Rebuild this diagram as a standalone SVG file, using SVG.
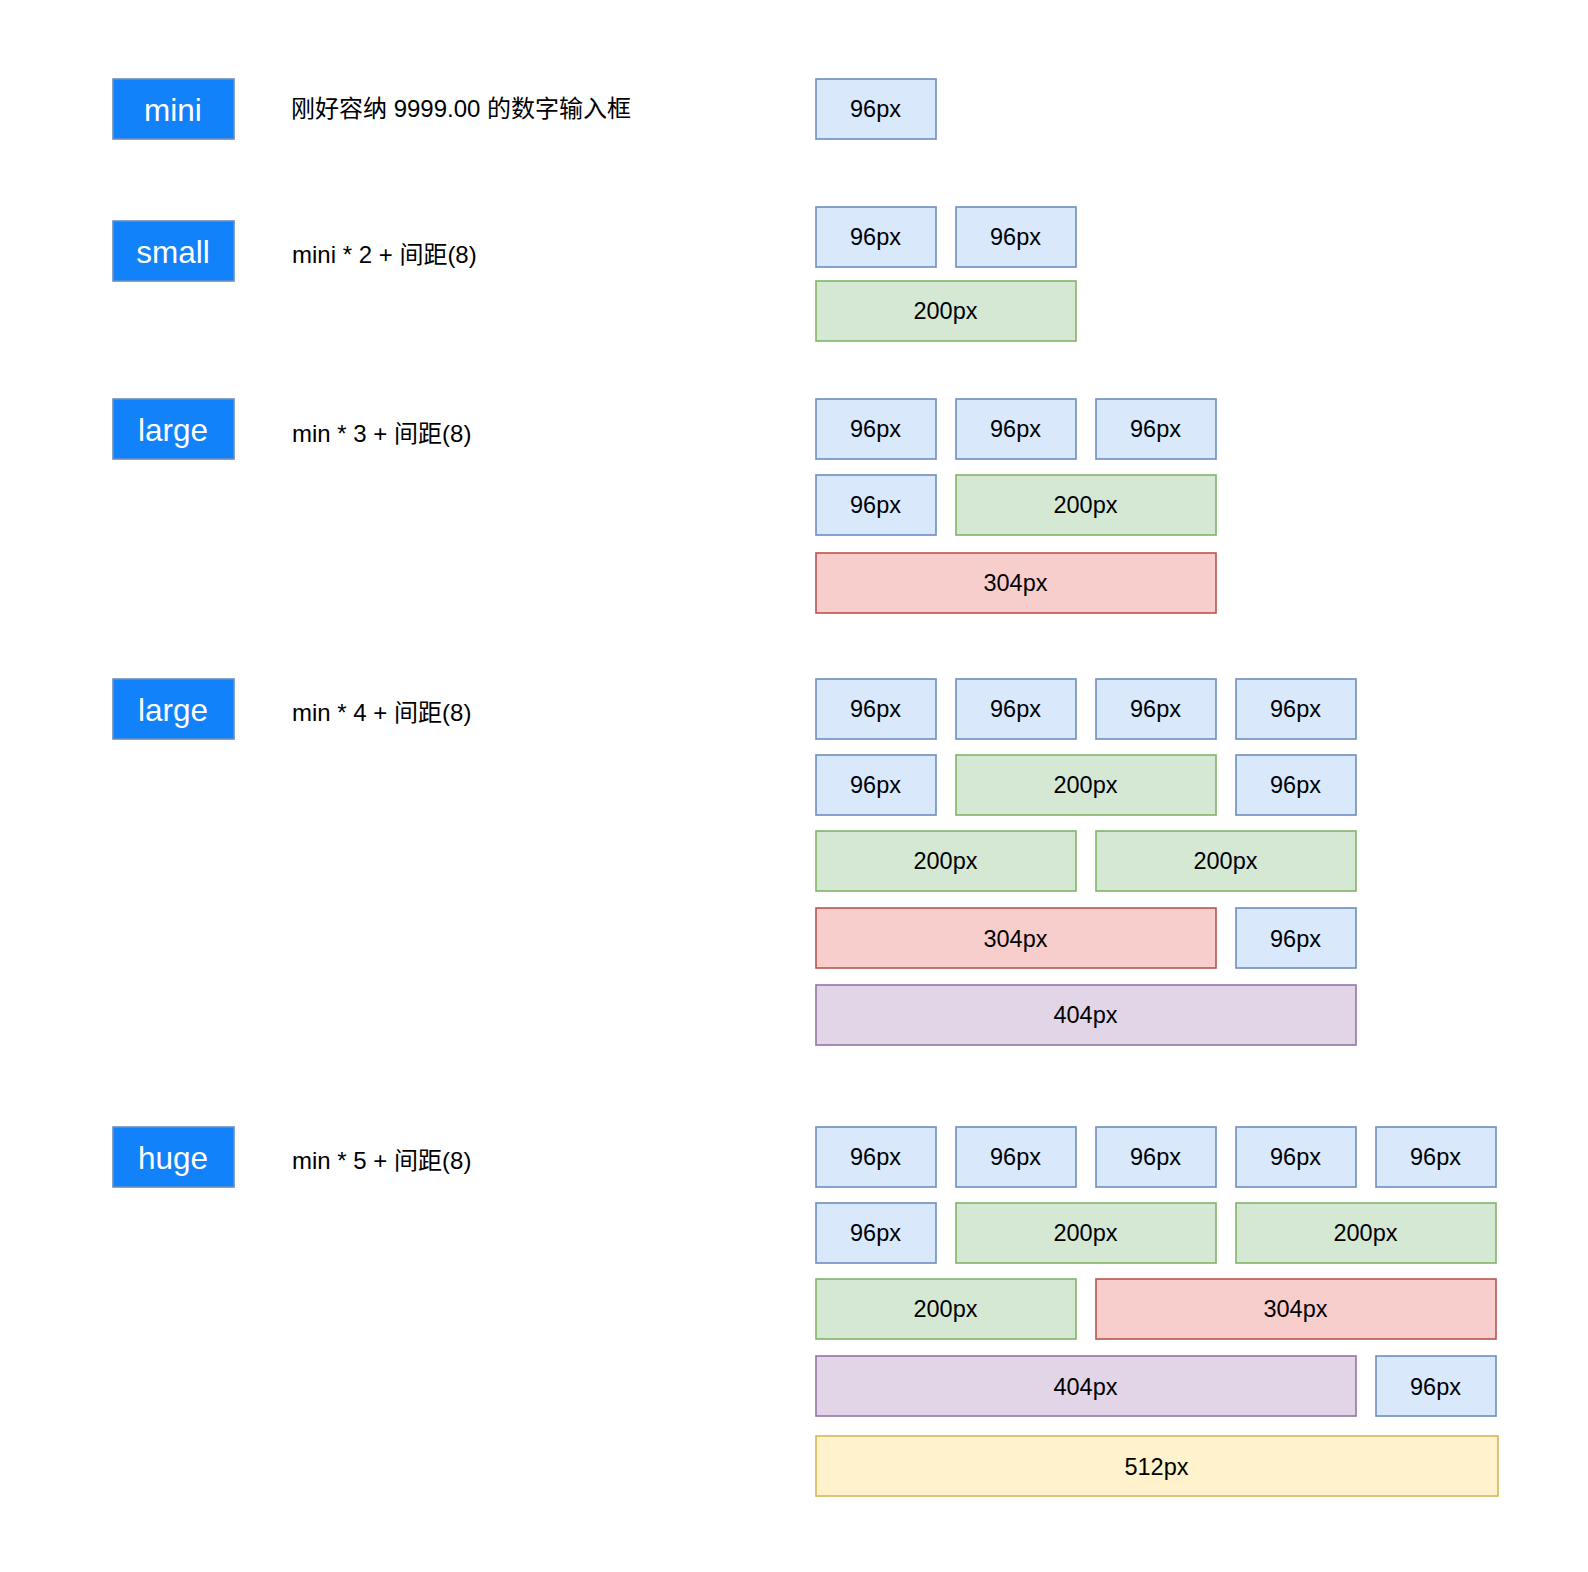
<svg xmlns="http://www.w3.org/2000/svg" width="1588" height="1572" viewBox="0 0 1588 1572">
<style>
text{font-family:"Liberation Sans","Noto Sans CJK SC",Arial,sans-serif;fill:#000}
.lbl rect{fill:#1182fa;stroke:#6c8ebf;stroke-width:1.6}
.lbl text{fill:#fff;font-size:31.5px;text-anchor:middle}
.desc{font-size:24px}
.b rect,.g rect,.r rect,.p rect,.y rect{stroke-width:1.6}
.b rect{fill:#dae8fc;stroke:#6c8ebf}
.g rect{fill:#d5e8d4;stroke:#82b366}
.r rect{fill:#f8cecc;stroke:#b85450}
.p rect{fill:#e1d5e7;stroke:#9673a6}
.y rect{fill:#fff2cc;stroke:#d6b656}
.b text,.g text,.r text,.p text,.y text{font-size:23.5px;text-anchor:middle}
</style>
<rect width="1588" height="1572" fill="#fff"/>

<!-- size labels -->
<g id="lbl-mini" class="lbl"><rect x="113" y="79" width="121" height="60"/><text x="173" y="120.5">mini</text></g>
<g id="lbl-small" class="lbl"><rect x="113" y="221" width="121" height="60"/><text x="173" y="262.5">small</text></g>
<g id="lbl-large1" class="lbl"><rect x="113" y="399" width="121" height="60"/><text x="173" y="440.5">large</text></g>
<g id="lbl-large2" class="lbl"><rect x="113" y="679" width="121" height="60"/><text x="173" y="720.5">large</text></g>
<g id="lbl-huge" class="lbl"><rect x="113" y="1127" width="121" height="60"/><text x="173" y="1168.5">huge</text></g>

<!-- descriptions -->
<g id="desc-mini"><text class="desc" x="291" y="117">刚好容纳 9999.00 的数字输入框</text></g>
<g id="desc-small"><text class="desc" x="292" y="263">mini * 2 + 间距(8)</text></g>
<g id="desc-large1"><text class="desc" x="292" y="441.5">min * 3 + 间距(8)</text></g>
<g id="desc-large2"><text class="desc" x="292" y="721">min * 4 + 间距(8)</text></g>
<g id="desc-huge"><text class="desc" x="292" y="1169">min * 5 + 间距(8)</text></g>

<!-- mini -->
<g id="m1" class="b"><rect x="816" y="79" width="120" height="60"/><text x="875.5" y="117">96px</text></g>

<!-- small -->
<g id="s1" class="b"><rect x="816" y="207" width="120" height="60"/><text x="875.5" y="245">96px</text></g>
<g id="s2" class="b"><rect x="956" y="207" width="120" height="60"/><text x="1015.5" y="245">96px</text></g>
<g id="s3" class="g"><rect x="816" y="281" width="260" height="60"/><text x="945.5" y="319">200px</text></g>

<!-- large (3) -->
<g id="l1" class="b"><rect x="816" y="399" width="120" height="60"/><text x="875.5" y="437">96px</text></g>
<g id="l2" class="b"><rect x="956" y="399" width="120" height="60"/><text x="1015.5" y="437">96px</text></g>
<g id="l3" class="b"><rect x="1096" y="399" width="120" height="60"/><text x="1155.5" y="437">96px</text></g>
<g id="l4" class="b"><rect x="816" y="475" width="120" height="60"/><text x="875.5" y="513">96px</text></g>
<g id="l5" class="g"><rect x="956" y="475" width="260" height="60"/><text x="1085.5" y="513">200px</text></g>
<g id="l6" class="r"><rect x="816" y="553" width="400" height="60"/><text x="1015.5" y="591">304px</text></g>

<!-- large (4) -->
<g id="k1" class="b"><rect x="816" y="679" width="120" height="60"/><text x="875.5" y="717">96px</text></g>
<g id="k2" class="b"><rect x="956" y="679" width="120" height="60"/><text x="1015.5" y="717">96px</text></g>
<g id="k3" class="b"><rect x="1096" y="679" width="120" height="60"/><text x="1155.5" y="717">96px</text></g>
<g id="k4" class="b"><rect x="1236" y="679" width="120" height="60"/><text x="1295.5" y="717">96px</text></g>
<g id="k5" class="b"><rect x="816" y="755" width="120" height="60"/><text x="875.5" y="793">96px</text></g>
<g id="k6" class="g"><rect x="956" y="755" width="260" height="60"/><text x="1085.5" y="793">200px</text></g>
<g id="k7" class="b"><rect x="1236" y="755" width="120" height="60"/><text x="1295.5" y="793">96px</text></g>
<g id="k8" class="g"><rect x="816" y="831" width="260" height="60"/><text x="945.5" y="869">200px</text></g>
<g id="k9" class="g"><rect x="1096" y="831" width="260" height="60"/><text x="1225.5" y="869">200px</text></g>
<g id="k10" class="r"><rect x="816" y="908" width="400" height="60"/><text x="1015.5" y="946.5">304px</text></g>
<g id="k11" class="b"><rect x="1236" y="908" width="120" height="60"/><text x="1295.5" y="946.5">96px</text></g>
<g id="k12" class="p"><rect x="816" y="985" width="540" height="60"/><text x="1085.5" y="1023">404px</text></g>

<!-- huge -->
<g id="h1" class="b"><rect x="816" y="1127" width="120" height="60"/><text x="875.5" y="1165">96px</text></g>
<g id="h2" class="b"><rect x="956" y="1127" width="120" height="60"/><text x="1015.5" y="1165">96px</text></g>
<g id="h3" class="b"><rect x="1096" y="1127" width="120" height="60"/><text x="1155.5" y="1165">96px</text></g>
<g id="h4" class="b"><rect x="1236" y="1127" width="120" height="60"/><text x="1295.5" y="1165">96px</text></g>
<g id="h5" class="b"><rect x="1376" y="1127" width="120" height="60"/><text x="1435.5" y="1165">96px</text></g>
<g id="h6" class="b"><rect x="816" y="1203" width="120" height="60"/><text x="875.5" y="1241">96px</text></g>
<g id="h7" class="g"><rect x="956" y="1203" width="260" height="60"/><text x="1085.5" y="1241">200px</text></g>
<g id="h8" class="g"><rect x="1236" y="1203" width="260" height="60"/><text x="1365.5" y="1241">200px</text></g>
<g id="h9" class="g"><rect x="816" y="1279" width="260" height="60"/><text x="945.5" y="1317">200px</text></g>
<g id="h10" class="r"><rect x="1096" y="1279" width="400" height="60"/><text x="1295.5" y="1317">304px</text></g>
<g id="h11" class="p"><rect x="816" y="1356" width="540" height="60"/><text x="1085.5" y="1394.5">404px</text></g>
<g id="h12" class="b"><rect x="1376" y="1356" width="120" height="60"/><text x="1435.5" y="1394.5">96px</text></g>
<g id="h13" class="y"><rect x="816" y="1436" width="682" height="60"/><text x="1156.5" y="1474.5">512px</text></g>

<g id="connectors"/>
</svg>
